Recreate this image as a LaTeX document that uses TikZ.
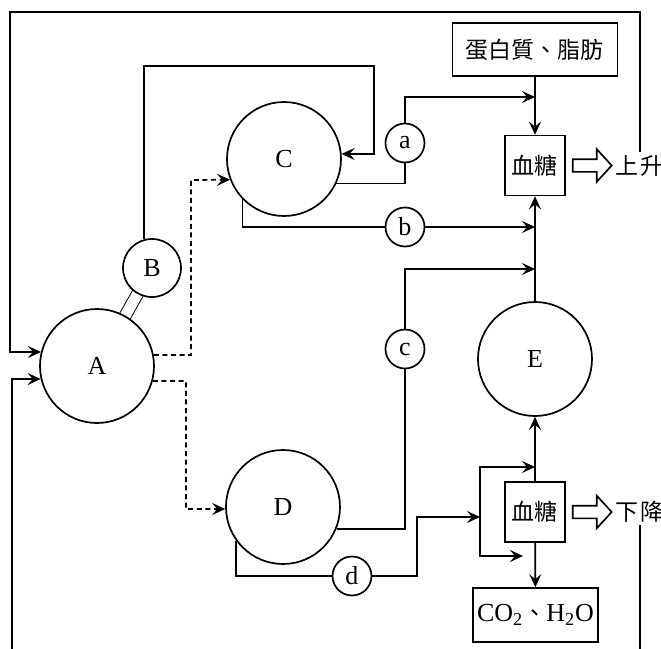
\documentclass[tikz,border=0pt]{standalone}
\usepackage{fontspec}
\setmainfont{Liberation Serif}
\newfontfamily\cjk{Noto Sans CJK TC}
\usetikzlibrary{positioning,arrows.meta,calc,backgrounds,shapes.arrows}

\begin{document}
\begin{tikzpicture}[
x=0.5pt,y=-0.5pt,line width=0.85pt,
>={Stealth[length=6.5pt,width=6pt,inset=2.5pt]},
organ/.style={circle,draw,fill=white,minimum size=57pt,inner sep=0pt,font=\fontsize{13}{15}\selectfont},
bud/.style={organ,minimum size=29pt},
hormone/.style={organ,minimum size=19.5pt},
box/.style={rectangle,draw,fill=white,minimum width=30pt,minimum height=30pt,inner sep=0pt,font=\cjk\fontsize{11.5}{13}\selectfont},
word/.style={inner sep=1pt,font=\cjk\fontsize{11.5}{13}\selectfont},
hollow/.style={single arrow,draw,inner sep=2.75pt,minimum height=19.5pt,
single arrow head extend=5pt,single arrow tip angle=95},
dasharr/.style={->,dash pattern=on 2.5pt off 1.8pt}
]
\useasboundingbox (0,0) rectangle (661,649);
\clip (0,0) rectangle (661,649);

% organs and hormones
\node[organ] (A) at (97,366) {A};
\node[bud] (B) at (152,268) {B};
\node[organ] (C) at (284,159) {C};
\node[organ] (D) at (283,507) {D};
\node[organ] (E) at (535,359) {E};
\node[hormone] (a) at (405,143) {a};
\node[hormone] (b) at (405,227) {b};
\node[hormone] (c) at (405,349) {c};
\node[hormone] (d) at (352,576) {d};

% blood sugar column
\node[box,minimum width=82.5pt,minimum height=26.5pt] (prot) at (535,49.5) {蛋白質、脂肪};
\node[box] (S1) at (535,165.5) {血糖};
\node[box] (S2) at (535,512) {血糖};
\node[box,minimum width=62.5pt,minimum height=27pt,font=\fontsize{13}{15}\selectfont] (co2) at (535.5,615)
{CO\textsubscript{2}{\cjk\fontsize{11.5}{13}\selectfont 、}H\textsubscript{2}O};
\node[hollow,right=3pt of S1] (upArr) {};
\node[word,right=0pt of upArr] (up) {上\hspace{1pt}升};
\node[hollow,right=3pt of S2] (dnArr) {};
\node[word,right=0pt of dnArr] (down) {下\hspace{1pt}降};

\coordinate (ja) at (535,97);
\coordinate (jc) at (535,269);
\coordinate (jt) at (535,467);
\coordinate (jq) at (523,556);

% stalk between A and B
\begin{scope}[on background layer]
\draw ($(B)!3pt!90:(A)$) -- ($(A)!3pt!-90:(B)$);
\draw ($(B)!3pt!-90:(A)$) -- ($(A)!3pt!90:(B)$);
\end{scope}

\draw[->] (prot) -- (S1);
\draw[->] (E) -- (S1);
\draw[->] (S2) -- (E);
\draw[->] (S2) -- (co2);

\draw[->] (B.105) |- (374,66) |- (C.5);
\draw[dasharr] (A.11) -| (191,180) -- (C.201);
\draw[dasharr] (A.-15) -| (186,509) -- (D.182);

\draw (C.-25) -| (a);
\draw[->] (a) |- (ja);
\draw (C.224) |- (b);
\draw[->] (b) -- (b -| S1);
\draw (D.-22) -| (c);
\draw[->] (c) |- (jc);
\draw (D.216) |- (d);
\draw[->] (d) -| (417,517) -- (480,517);
\draw[<->] (jt) -| (480,556) -- (jq);

% feedback loops
\draw[->] (up) |- (10,12) |- (A.166);
\draw[->] (down) |- (12,690) |- (A.193);
\end{tikzpicture}
\end{document}
